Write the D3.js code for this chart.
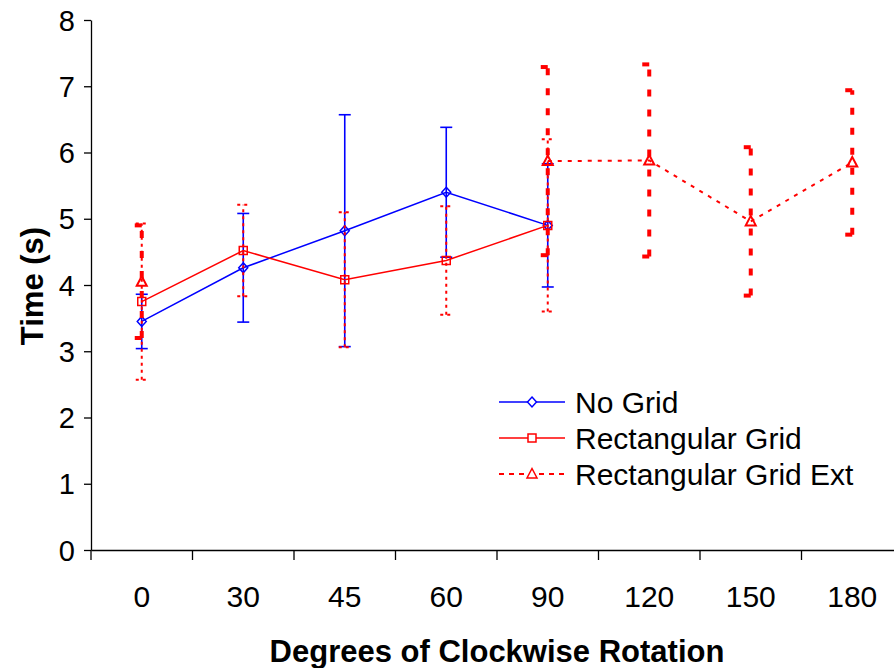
<!DOCTYPE html>
<head>
  <meta charset="utf-8">
  <style>
  body { margin: 0; background: #fff; }
  text { font-family: 'Liberation Sans', Arial, sans-serif; fill: #000; }
  .axis path, .axis line { stroke: #000; stroke-width: 1.3; }
  </style>
</head>
<body>
  <svg id="chart"></svg>

  <script src="https://d3js.org/d3.v7.min.js"></script>
  <script>

  var width = 894,
      height = 668;

  // chart values
  var categories = ['0', '30', '45', '60', '90', '120', '150', '180'];
  var noGrid     = [3.45, 4.26, 4.82, 5.40, 4.90, null, null, null];
  var noGridErr  = [0.41, 0.82, 1.75, 0.98, 0.93, null, null, null];
  var rectGrid    = [3.75, 4.52, 4.08, 4.37, 4.90, null, null, null];
  var rectGridErr = [1.18, 0.69, 1.02, 0.82, 1.30, null, null, null];
  var rectExt    = [4.05, null, null, null, 5.87, 5.88, 4.96, 5.85];
  var rectExtErr = [0.85, null, null, null, 1.42, 1.45, 1.12, 1.09];
  var yTicks = [0, 1, 2, 3, 4, 5, 6, 7, 8];

  var series = [
    { name: 'No Grid', values: noGrid, err: noGridErr, color: '#0000ff',
      line: null, lineWidth: 1.5, marker: 'diamond',
      bar: { width: 1.6, dash: null, cap: 12 } },
    { name: 'Rectangular Grid', values: rectGrid, err: rectGridErr, color: '#ff0000',
      line: null, lineWidth: 1.5, marker: 'square',
      bar: { width: 2, dash: '3,4', cap: 12 } },
    { name: 'Rectangular Grid Ext', values: rectExt, err: rectExtErr, color: '#ff0000',
      line: '4,6', lineWidth: 2, marker: 'triangle',
      bar: { width: 4, dash: '7,13', cap: 14 } }
  ];

  var svg = d3.select('#chart')
    .attr('width', width)
    .attr('height', height);

  var plotLeft = 91, plotTop = 20, plotBottom = 550, plotRight = 903;

  var x = d3.scaleBand()
    .domain(categories)
    .range([plotLeft, plotRight]);

  var y = d3.scaleLinear()
    .domain([0, 8])
    .range([plotBottom, plotTop]);

  function cx(i) { return x(categories[i]) + x.bandwidth() / 2; }

  // y axis
  var yAxis = svg.append('g')
    .attr('class', 'axis')
    .attr('transform', 'translate(' + plotLeft + ',0)')
    .call(d3.axisLeft(y).tickValues(yTicks).tickSize(7).tickSizeOuter(0).tickPadding(9));
  yAxis.selectAll('text')
    .style('font-size', '29px')
    .attr('dy', '0.35em');

  // x axis: labels centred in bands, ticks on band edges
  var xAxis = svg.append('g')
    .attr('class', 'axis')
    .attr('transform', 'translate(0,' + plotBottom + ')')
    .call(d3.axisBottom(x).tickSize(0).tickSizeOuter(0).tickPadding(36));
  xAxis.selectAll('text')
    .style('font-size', '30px')
    .attr('dy', '0.71em');
  xAxis.selectAll('.edge')
    .data(categories)
    .enter().append('line')
      .attr('class', 'edge')
      .attr('x1', function(d) { return x(d); })
      .attr('x2', function(d) { return x(d); })
      .attr('y1', 0)
      .attr('y2', 10);

  // axis titles
  svg.append('text')
    .attr('x', 497)
    .attr('y', 662)
    .attr('text-anchor', 'middle')
    .style('font-size', '31px')
    .style('font-weight', 'bold')
    .text('Degrees of Clockwise Rotation');

  svg.append('text')
    .attr('transform', 'translate(43,286)rotate(-90)')
    .attr('text-anchor', 'middle')
    .style('font-size', '31px')
    .style('font-weight', 'bold')
    .text('Time (s)');

  function markerPath(type) {
    if (type === 'diamond') return 'M0,-5L4.5,0L0,5L-4.5,0Z';
    if (type === 'square') return 'M-4,-4H4V4H-4Z';
    return 'M0,-5.5L5,4H-5Z';
  }

  var line = d3.line()
    .defined(function(d) { return d != null; })
    .x(function(d, i) { return cx(i); })
    .y(function(d) { return y(d); });

  series.forEach(function(s) {
    var g = svg.append('g');
    var pts = s.values.map(function(v, i) { return { v: v, e: s.err[i], i: i }; })
      .filter(function(d) { return d.v != null; });

    // error bars
    var bars = g.selectAll('.bar')
      .data(pts)
      .enter().append('g')
        .attr('class', 'bar')
        .attr('stroke', s.color)
        .attr('stroke-width', s.bar.width)
        .attr('stroke-dasharray', s.bar.dash);

    bars.append('line')
      .attr('x1', function(d) { return cx(d.i); })
      .attr('x2', function(d) { return cx(d.i); })
      .attr('y1', function(d) { return y(d.v - d.e); })
      .attr('y2', function(d) { return y(d.v + d.e); });

    [1, -1].forEach(function(sign) {
      bars.append('line')
        .attr('x1', function(d) { return cx(d.i) - s.bar.cap / 2; })
        .attr('x2', function(d) { return cx(d.i) + s.bar.cap / 2; })
        .attr('y1', function(d) { return y(d.v + sign * d.e); })
        .attr('y2', function(d) { return y(d.v + sign * d.e); });
    });

    // series line
    g.append('path')
      .attr('d', line(s.values))
      .attr('fill', 'none')
      .attr('stroke', s.color)
      .attr('stroke-width', s.lineWidth)
      .attr('stroke-dasharray', s.line);

    // markers
    g.selectAll('.mark')
      .data(pts)
      .enter().append('path')
        .attr('class', 'mark')
        .attr('transform', function(d) { return 'translate(' + cx(d.i) + ',' + y(d.v) + ')'; })
        .attr('d', markerPath(s.marker))
        .attr('fill', 'none')
        .attr('stroke', s.color)
        .attr('stroke-width', s.marker === 'triangle' ? 2 : 1.5);
  });

  // legend
  var legend = svg.append('g')
    .attr('transform', 'translate(499,402)');

  var item = legend.selectAll('.item')
    .data(series)
    .enter().append('g')
      .attr('class', 'item')
      .attr('transform', function(d, i) { return 'translate(0,' + (i * 36) + ')'; });

  item.append('line')
    .attr('x1', 0)
    .attr('x2', 66)
    .attr('stroke', function(d) { return d.color; })
    .attr('stroke-width', function(d) { return d.lineWidth; })
    .attr('stroke-dasharray', function(d) { return d.line ? '5,5' : null; });

  item.append('path')
    .attr('transform', 'translate(33,0)')
    .attr('d', function(d) { return markerPath(d.marker); })
    .attr('fill', '#fff')
    .attr('stroke', function(d) { return d.color; })
    .attr('stroke-width', 1.5);

  item.append('text')
    .attr('x', 76)
    .attr('y', 10.5)
    .style('font-size', '30px')
    .text(function(d) { return d.name; });

  </script>
</body>
